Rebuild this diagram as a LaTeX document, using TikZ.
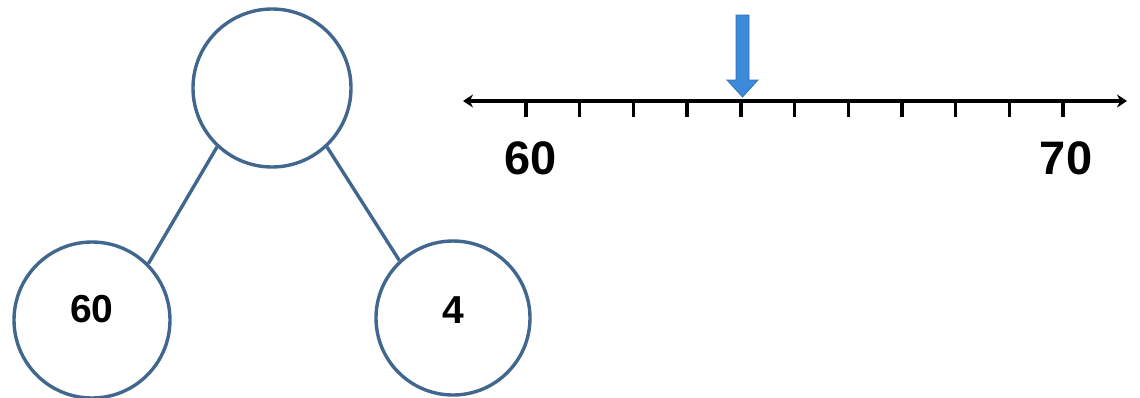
\documentclass[tikz,border=0pt]{standalone}
\usepackage{fontspec}
\setmainfont{Liberation Sans}
\usetikzlibrary{arrows.meta}
\definecolor{ringblue}{HTML}{41678F}
\definecolor{arrowblue}{HTML}{3C8AD8}
\definecolor{arrowedge}{HTML}{3170B5}
\tikzset{
  ring/.style={circle, draw=ringblue, line width=3.4pt, inner sep=0pt},
  circlabel/.style={font=\fontsize{39}{39}\selectfont\bfseries, inner sep=0pt},
  linelabel/.style={font=\fontsize{47}{47}\selectfont\bfseries, inner sep=0pt},
  branch/.style={draw=ringblue, line width=3.4pt},
  axis/.style={line width=3.8pt, {Stealth[length=10pt,width=13pt]}-{Stealth[length=10pt,width=13pt]}},
  tickmark/.style={line width=3.4pt},
}
\begin{document}
\begin{tikzpicture}[x=1pt,y=-1pt]
\useasboundingbox (0,0) rectangle (1140,397);
% number bond
\node[ring, minimum size=158pt] (top) at (272,88) {};
\node[ring, minimum size=156pt] (left) at (92,320) {};
\node[ring, minimum size=154pt] (right) at (453,318) {};
\node[circlabel] (lab60) at (92,309) {60};
\node[circlabel] (lab4) at (453,310) {4};
\draw[branch] (top.227) -- (left.45);
\draw[branch] (top.313) -- (right.133);
% number line
\coordinate (lstart) at (463,101);
\coordinate (lend) at (1127,101);
\draw[axis] (lstart) -- (lend);
\foreach \k in {0,...,10}{
  \draw[tickmark] (526+\k*53.7,101) -- (526+\k*53.7,117);
}
\node[linelabel] (n60) at (531,158) {60};
\node[linelabel] (n70) at (1066,158) {70};
% blue arrow
\fill[arrowblue, draw=arrowedge, line width=0.8pt]
  (736,15) -- (749,15) -- (749,80) -- (758,80) -- (742.5,97) -- (727,80) -- (736,80) -- cycle;
\end{tikzpicture}
\end{document}
